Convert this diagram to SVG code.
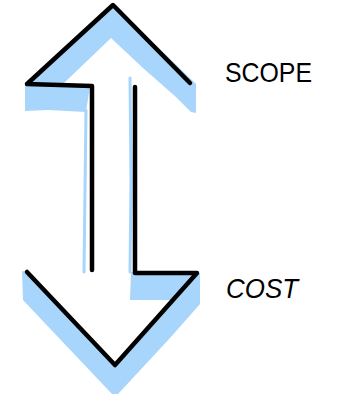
<svg xmlns="http://www.w3.org/2000/svg" width="341" height="397" viewBox="0 0 341 397">
  <style>
    .shade { fill: #a8d5fb; stroke: none; }
    .shade-line { fill: none; stroke: #a8d5fb; stroke-width: 3; stroke-linecap: round; }
    .ink { fill: none; stroke: #000; stroke-width: 4.5; stroke-linecap: round; stroke-linejoin: round; }
    .label { font-family: "Liberation Sans", Arial, sans-serif; font-size: 28px; fill: #000; }
  </style>
  <rect width="341" height="397" fill="#fff"/>

  <g id="arrow">
    <!-- blue brush shading under the outline -->
    <g id="shading">
      <polygon class="shade" points="25,84 113,4 194,82 196,84 196,113 191,112 176,97 143,68 111,38 64,83 90,86 86,112 48,110 25,111"/>
      <polygon class="shade" points="22,271 23,300 40,318 112,394 118,394 170,338 200,304 200,273 131,272 130,300 172,300 115,365 27,272"/>
      <polyline class="shade-line" points="86,110 85,190 84,272"/>
      <polyline class="shade-line" points="130,78 131,180 130,272"/>
    </g>
    <!-- black outline strokes -->
    <g id="outline">
      <polyline class="ink" points="92,270 92,86 27,84 113,5 190,83"/>
      <polyline class="ink" points="135,87 135,273 197,273 115,365 27,272"/>
    </g>
  </g>

  <g id="scope">
    <text class="label" x="225" y="82" textLength="87" lengthAdjust="spacingAndGlyphs">SCOPE</text>
  </g>
  <g id="cost">
    <text class="label" x="226" y="298" textLength="72" lengthAdjust="spacingAndGlyphs" font-style="italic">COST</text>
  </g>
</svg>
